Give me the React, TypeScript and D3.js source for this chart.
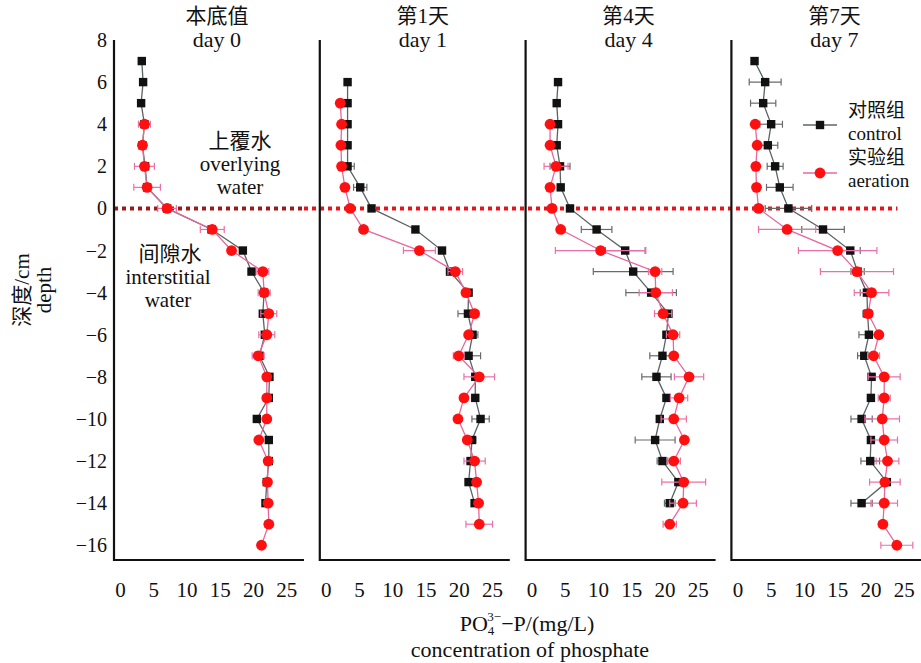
import React from 'react';
import * as d3 from 'd3';

const titlesZh = ['本底值', '第1天', '第4天', '第7天'];
const titlesEn = ['day 0', 'day 1', 'day 4', 'day 7'];
const xTicks = [0, 5, 10, 15, 20, 25];
const yTicks = [8, 6, 4, 2, 0, -2, -4, -6, -8, -10, -12, -14, -16];

// control (black squares)
const ctrlDepth0 = [7, 6, 5, 4, 3, 2, 1, 0, -1, -2, -3, -4, -5, -6, -7, -8, -9, -10, -11, -12, -13, -14];
const ctrl0 = [3.2, 3.4, 3.1, 3.6, 3.3, 3.7, 4.0, 7.0, 13.7, 18.4, 19.7, 21.6, 21.4, 21.7, 20.9, 22.4, 22.3, 20.5, 22.3, 22.3, 22.0, 21.8];
const ctrlErr0 = [0.2, 0.2, 0.2, 0.3, 0.3, 0.3, 0.3, 0.4, 0.5, 0.3, 0.3, 0.3, 0.3, 0.3, 0.3, 0.3, 0.3, 0.3, 0.3, 0.3, 0.3, 0.3];

const ctrlDepth1 = [6, 5, 4, 3, 2, 1, 0, -1, -2, -3, -4, -5, -6, -7, -8, -9, -10, -11, -12, -13, -14];
const ctrl1 = [3.2, 3.2, 3.2, 3.2, 3.2, 5.1, 6.8, 13.4, 17.4, 18.6, 21.4, 21.3, 22.0, 21.4, 22.4, 22.4, 23.2, 21.9, 21.7, 21.4, 22.3];
const ctrlErr1 = [0.2, 0.3, 0.3, 0.3, 1.0, 1.0, 0.3, 0.3, 0.3, 0.3, 0.3, 1.5, 0.8, 1.8, 0.3, 0.3, 1.3, 0.6, 0.5, 0.5, 0.4];

const ctrlDepth4 = [6, 5, 4, 3, 2, 1, 0, -1, -2, -3, -4, -5, -6, -7, -8, -9, -10, -11, -12, -13, -14];
const ctrl4 = [3.9, 3.7, 3.9, 3.7, 4.2, 4.3, 5.7, 9.7, 14.0, 15.2, 17.9, 20.5, 20.2, 19.6, 18.7, 20.2, 19.2, 18.5, 19.6, 22.0, 20.7];
const ctrlErr4 = [0.2, 0.2, 0.2, 0.2, 1.5, 0.3, 0.5, 2.3, 3.0, 6.0, 3.8, 0.5, 0.4, 1.9, 2.2, 0.3, 0.4, 3.0, 0.8, 0.5, 0.8];

const ctrlDepth7 = [7, 6, 5, 4, 3, 2, 1, 0, -1, -2, -3, -4, -5, -6, -7, -8, -9, -10, -11, -12, -13, -14];
const ctrl7 = [2.5, 4.1, 3.8, 5.0, 4.5, 5.6, 6.3, 7.6, 12.8, 16.9, 18.0, 19.4, 19.5, 19.7, 19.0, 20.1, 20.0, 18.6, 20.0, 19.9, 22.4, 18.6];
const ctrlErr7 = [0.2, 2.4, 1.9, 1.7, 1.5, 1.2, 2.0, 3.5, 3.2, 1.5, 1.0, 1.0, 0.7, 1.5, 1.0, 0.5, 0.3, 1.6, 0.3, 1.4, 0.4, 1.6];

// aeration (red circles)
const aerDepth0 = [4, 3, 2, 1, 0, -1, -2, -3, -4, -5, -6, -7, -8, -9, -10, -11, -12, -13, -14, -15, -16];
const aer0 = [3.6, 3.3, 3.6, 4.0, 7.0, 13.8, 16.7, 21.4, 21.6, 22.3, 22.0, 20.7, 22.0, 22.0, 22.0, 20.8, 22.2, 22.1, 22.2, 22.3, 21.2];
const aerErr0 = [0.9, 0.6, 1.5, 2.0, 1.4, 1.8, 0.2, 0.9, 0.9, 1.2, 1.2, 0.9, 0.3, 0.3, 0.3, 0.3, 0.4, 0.3, 0.3, 0.6, 0.5];

const aerDepth1 = [5, 4, 3, 2, 1, 0, -1, -2, -3, -4, -5, -6, -7, -8, -9, -10, -11, -12, -13, -14, -15];
const aer1 = [2.1, 2.3, 2.2, 2.3, 2.8, 3.6, 5.6, 14.0, 19.4, 21.0, 22.3, 21.4, 19.9, 23.0, 20.7, 19.8, 21.2, 22.3, 22.6, 22.9, 23.0];
const aerErr1 = [0.2, 0.2, 0.2, 0.2, 0.2, 0.2, 0.6, 2.4, 1.1, 0.3, 0.5, 0.3, 0.8, 2.3, 0.2, 0.2, 0.2, 1.6, 0.3, 0.3, 2.0];

const aerDepth4 = [4, 3, 2, 1, 0, -1, -2, -3, -4, -5, -6, -7, -8, -9, -10, -11, -12, -13, -14, -15];
const aer4 = [2.7, 2.7, 3.6, 2.7, 3.0, 4.3, 10.3, 18.5, 18.6, 19.7, 21.2, 21.3, 23.6, 22.1, 21.3, 22.9, 21.3, 22.8, 22.7, 20.7];
const aerErr4 = [0.2, 0.2, 1.8, 0.2, 0.2, 0.2, 6.8, 1.0, 2.5, 1.3, 1.0, 0.3, 2.2, 1.3, 1.9, 0.3, 1.0, 3.3, 2.0, 1.0];

const aerDepth7 = [4, 3, 2, 1, 0, -1, -2, -3, -4, -5, -6, -7, -8, -9, -10, -11, -12, -13, -14, -15, -16];
const aer7 = [2.6, 2.9, 2.7, 2.8, 3.1, 7.4, 15.0, 17.9, 20.1, 19.6, 21.2, 20.4, 22.0, 22.0, 21.7, 22.0, 22.5, 22.1, 22.0, 21.8, 23.9];
const aerErr7 = [0.2, 0.2, 0.2, 0.2, 0.2, 4.3, 5.9, 5.5, 2.6, 0.5, 0.3, 0.9, 2.4, 0.9, 2.6, 2.0, 1.7, 2.3, 2.0, 0.6, 2.4];

const panels = [
  { ctrl: [ctrlDepth0, ctrl0, ctrlErr0], aer: [aerDepth0, aer0, aerErr0] },
  { ctrl: [ctrlDepth1, ctrl1, ctrlErr1], aer: [aerDepth1, aer1, aerErr1] },
  { ctrl: [ctrlDepth4, ctrl4, ctrlErr4], aer: [aerDepth4, aer4, aerErr4] },
  { ctrl: [ctrlDepth7, ctrl7, ctrlErr7], aer: [aerDepth7, aer7, aerErr7] },
];

const W = 921;
const H = 663;
const top = 40;
const bottom = 560;
const panelW = 190;
const panelStep = 205.8;
const firstLeft = 114;

const serif = "'Liberation Serif', 'Times New Roman', Times, 'Noto Sans CJK SC', serif";

const ctrlColor = '#111';
const ctrlLine = '#5a6464';
const ctrlErrColor = '#6a6a6a';
const aerColor = '#ff1010';
const aerLine = '#e8679c';
const aerErrColor = '#ea70a8';

const y = d3.scaleLinear().domain([-16.7, 8]).range([bottom, top]);

function Series({ x, depth, vals, errs, kind }: any) {
  const pts = depth.map((d: number, i: number) => ({ d, v: vals[i], e: errs[i] }));
  const line = d3
    .line<any>()
    .x((p) => x(p.v))
    .y((p) => y(p.d));
  const isCtrl = kind === 'ctrl';
  const lc = isCtrl ? ctrlLine : aerLine;
  const ec = isCtrl ? ctrlErrColor : aerErrColor;
  return (
    <g>
      <path d={line(pts) || ''} fill="none" stroke={lc} strokeWidth={1.3} />
      {pts.map((p: any, i: number) => {
        const yy = y(p.d);
        const x1 = x(p.v - p.e);
        const x2 = x(p.v + p.e);
        return (
          <g key={'e' + i} stroke={ec} strokeWidth={1.2}>
            <line x1={x1} x2={x2} y1={yy} y2={yy} />
            <line x1={x1} x2={x1} y1={yy - 3.5} y2={yy + 3.5} />
            <line x1={x2} x2={x2} y1={yy - 3.5} y2={yy + 3.5} />
          </g>
        );
      })}
      {pts.map((p: any, i: number) =>
        isCtrl ? (
          <rect key={'m' + i} x={x(p.v) - 4.2} y={y(p.d) - 4.2} width={8.4} height={8.4} fill={ctrlColor} />
        ) : (
          <circle key={'m' + i} cx={x(p.v)} cy={y(p.d)} r={5.4} fill={aerColor} />
        )
      )}
    </g>
  );
}

export default function App() {
  const lastRight = firstLeft + 3 * panelStep + panelW;
  return (
    <svg
      width={W}
      height={H}
      style={{ position: 'absolute', left: 0, top: 0, background: '#fff', fontFamily: serif }}
    >
      <rect width={W} height={H} fill="#fff" />
      {/* y tick labels */}
      {yTicks.map((t) => (
        <text key={t} x={107} y={y(t)} dy="0.35em" textAnchor="end" fontSize={20} fill="#111">
          {t < 0 ? '\u2212' + Math.abs(t) : t}
        </text>
      ))}
      {/* y axis title */}
      <g transform={`translate(29, 290) rotate(-90)`}>
        <text x={0} y={0} textAnchor="middle" fontSize={21} fill="#111">深度/cm</text>
        <text x={0} y={22} textAnchor="middle" fontSize={21} fill="#111">depth</text>
      </g>
      {/* zero line */}
      <line
        x1={firstLeft}
        x2={firstLeft + panelW}
        y1={y(0)}
        y2={y(0)}
        stroke="#9e1a1a"
        strokeWidth={4}
        strokeDasharray="4 4"
      />
      <line
        x1={firstLeft + panelW}
        x2={lastRight - 24}
        y1={y(0)}
        y2={y(0)}
        stroke="#e4141c"
        strokeWidth={4}
        strokeDasharray="4 4"
      />
      {panels.map((p, i) => {
        const L = firstLeft + i * panelStep;
        const x = d3.scaleLinear().domain([0, 25]).range([L + 6.5, L + 6.5 + 25 * 6.65]);
        return (
          <g key={i}>
            <text x={L + panelW / 2 + 8} y={23} textAnchor="middle" fontSize={21} fill="#111">
              {titlesZh[i]}
            </text>
            <text x={L + panelW / 2 + 8} y={47} textAnchor="middle" fontSize={22} fill="#111">
              {titlesEn[i]}
            </text>
            <path
              d={`M${L},${top} V${bottom} H${L + panelW}`}
              fill="none"
              stroke="#111"
              strokeWidth={2.2}
            />
            {xTicks.map((t) => (
              <text key={t} x={x(t)} y={597} textAnchor="middle" fontSize={21} fill="#111">
                {t}
              </text>
            ))}
            <Series x={x} depth={p.ctrl[0]} vals={p.ctrl[1]} errs={p.ctrl[2]} kind="ctrl" />
            <Series x={x} depth={p.aer[0]} vals={p.aer[1]} errs={p.aer[2]} kind="aer" />
          </g>
        );
      })}
      {/* annotations */}
      <g fontSize={21} fill="#111" textAnchor="middle">
        <text x={240} y={148}>上覆水</text>
        <text x={240} y={171}>overlying</text>
        <text x={240} y={194}>water</text>
        <text x={170} y={261}>间隙水</text>
        <text x={168} y={284}>interstitial</text>
        <text x={168} y={307}>water</text>
      </g>
      {/* legend */}
      <g>
        <line x1={803} x2={837} y1={125} y2={125} stroke={ctrlLine} strokeWidth={1.3} />
        <rect x={815.8} y={120.8} width={8.4} height={8.4} fill={ctrlColor} />
        <line x1={803} x2={837} y1={173} y2={173} stroke={aerLine} strokeWidth={1.3} />
        <circle cx={820} cy={173} r={5.4} fill={aerColor} />
        <g fontSize={19} fill="#111">
          <text x={848} y={117}>对照组</text>
          <text x={848} y={140}>control</text>
          <text x={848} y={164}>实验组</text>
          <text x={848} y={187}>aeration</text>
        </g>
      </g>
      {/* x axis title */}
      <text x={527} y={631} textAnchor="middle" fontSize={22} fill="#111">
        <tspan>PO</tspan>
        <tspan fontSize={13} dy={4}>4</tspan>
        <tspan fontSize={13} dx={-7} dy={-14}>3−</tspan>
        <tspan dy={10}>−P/(mg/L)</tspan>
      </text>
      <text x={530} y={657} textAnchor="middle" fontSize={22} fill="#111">
        concentration of phosphate
      </text>
    </svg>
  );
}
